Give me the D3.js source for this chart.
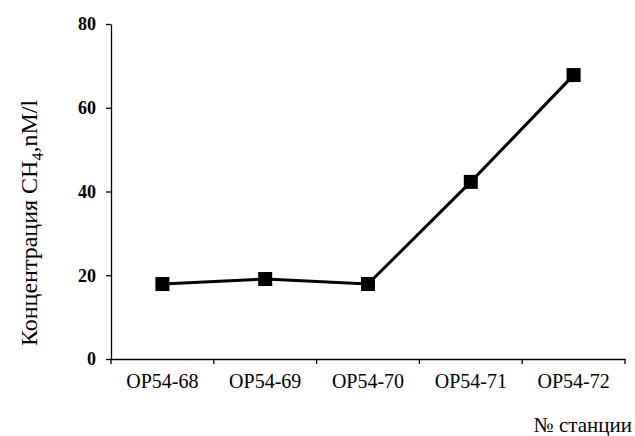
<!DOCTYPE html>
<html>
<head>
<meta charset="utf-8">
<script src="https://cdn.jsdelivr.net/npm/d3@7"></script>
<style>
    body { margin: 0; background: #fff; }
    svg { display: block; }
</style>
</head>
<body>
<div id="vis"></div>
<script>
var stations = ['OP54-68', 'OP54-69', 'OP54-70', 'OP54-71', 'OP54-72'];
var ch4 = [17.9, 19.1, 17.9, 42.3, 67.8];
var yTicks = [0, 20, 40, 60, 80];

var serif = "'Liberation Serif', 'Times New Roman', serif";

var svg = d3.select('#vis')
    .append('svg')
    .attr('width', 635)
    .attr('height', 436)
    .attr('font-family', serif);

var margin = { left: 111, top: 24, right: 10, bottom: 77 };
var width = 625 - margin.left;
var height = 359 - margin.top;

var g = svg.append('g')
    .attr('transform', 'translate(' + margin.left + ',' + margin.top + ')');

var xScale = d3.scaleBand().domain(stations).range([0, width]);
var yScale = d3.scaleLinear().domain([0, 80]).range([height, 0]);

// axes
var xAxis = d3.axisBottom(xScale).tickSize(0).tickPadding(15);
var xg = g.append('g')
    .attr('transform', 'translate(0,' + height + ')')
    .call(xAxis)
    .attr('font-family', serif)
    .attr('font-size', 20);
xg.select('.domain').attr('stroke', '#000').attr('stroke-width', 1.3);
xg.selectAll('text').attr('fill', '#000');

// ticks at band edges
var edges = stations.map(function(d) { return xScale(d); }).concat([width]);
xg.selectAll('line.edge').data(edges).enter().append('line')
    .attr('class', 'edge')
    .attr('x1', function(d) { return d; })
    .attr('x2', function(d) { return d; })
    .attr('y1', 0)
    .attr('y2', 5)
    .attr('stroke', '#000')
    .attr('stroke-width', 1.3);

var yAxis = d3.axisLeft(yScale).tickValues(yTicks).tickSize(5).tickPadding(10).tickSizeOuter(0);
var yg = g.append('g').call(yAxis)
    .attr('font-family', serif)
    .attr('font-size', 18)
    .attr('font-weight', 'bold');
yg.select('.domain').attr('stroke', '#000').attr('stroke-width', 1.3);
yg.selectAll('line').attr('stroke', '#000').attr('stroke-width', 1.3);
yg.selectAll('text').attr('fill', '#000');

// line
var line = d3.line()
    .x(function(d, i) { return xScale(stations[i]) + xScale.bandwidth() / 2; })
    .y(function(d) { return yScale(d); });

g.append('path')
    .datum(ch4)
    .attr('d', line)
    .attr('fill', 'none')
    .attr('stroke', '#000')
    .attr('stroke-width', 3);

var ms = 14;
g.selectAll('rect.mark').data(ch4).enter().append('rect')
    .attr('class', 'mark')
    .attr('x', function(d, i) { return xScale(stations[i]) + xScale.bandwidth() / 2 - ms / 2; })
    .attr('y', function(d) { return yScale(d) - ms / 2; })
    .attr('width', ms)
    .attr('height', ms)
    .attr('fill', '#000');

// axis titles
var yl = svg.append('text')
    .attr('transform', 'translate(37,223)rotate(-90)')
    .attr('text-anchor', 'middle')
    .attr('font-size', 24)
    .attr('fill', '#000');
yl.append('tspan').text('Концентрация CH');
yl.append('tspan').text('4').attr('dy', 6).attr('font-size', 16);
yl.append('tspan').text(',nM/l').attr('dy', -6);

svg.append('text')
    .attr('x', 632)
    .attr('y', 432)
    .attr('text-anchor', 'end')
    .attr('font-size', 21)
    .attr('fill', '#000')
    .text('№ станции');
</script>
</body>
</html>
